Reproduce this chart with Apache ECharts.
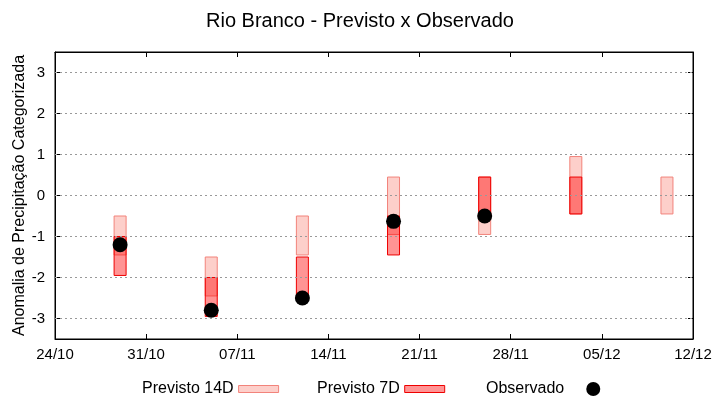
<!DOCTYPE html>
<html>
<head>
<meta charset="utf-8">
<script src="https://cdn.jsdelivr.net/npm/echarts@6/dist/echarts.min.js"></script>
<style>html,body{margin:0;padding:0;background:#fff;}#chart{width:720px;height:400px;}</style>
</head>
<body>
<div id="chart"></div>
<script>
// ---- data ----
var dates = ['2023-10-29','2023-11-05','2023-11-12','2023-11-19','2023-11-26','2023-12-03','2023-12-10'];
var p14Low  = [-1.45, -2.45, -1.45, -0.95, -0.95, -0.45, -0.45];
var p14High = [-0.5, -1.5, -0.5, 0.45, 0.45, 0.95, 0.45];
var p7Low   = [-1.95, -2.95, -2.45, -1.45, -0.5, -0.45, null];
var p7High  = [-1.0, -2.0, -1.5, -0.5, 0.45, 0.45, null];
var obs     = [-1.2, -2.8, -2.5, -0.63, -0.5, null, null];
var yTicks  = [-3, -2, -1, 0, 1, 2, 3];
var xStart = '2023-10-24', xEnd = '2023-12-12';

function ts(s){ var p=s.split('-'); return Date.UTC(+p[0], +p[1]-1, +p[2]); }
function pad(n){ return (n<10?'0':'')+n; }
function fmt(v){ var d=new Date(v); return pad(d.getUTCDate())+'/'+pad(d.getUTCMonth()+1); }
var DAY = 86400000;

var d14 = [], d7 = [], dObs = [];
for (var i=0;i<dates.length;i++){
  var t = ts(dates[i]);
  if (p14Low[i]!=null) d14.push([t, p14Low[i], p14High[i]]);
  if (p7Low[i]!=null) d7.push([t, p7Low[i], p7High[i]]);
  if (obs[i]!=null) dObs.push([t, obs[i]]);
}

var FONT = "'Liberation Sans', Arial, sans-serif";
var C14 = {fill:'#fdcfca', stroke:'#f2837b'};
var C7  = {fill:'rgba(255,0,0,0.42)', stroke:'#ee0000'};

function barRender(colors){
  return function(params, api){
    var x = api.value(0), lo = api.value(1), hi = api.value(2);
    var p1 = api.coord([x, hi]), p2 = api.coord([x, lo]);
    return {
      type:'rect',
      shape:{x:p1[0]-6, y:p1[1], width:12, height:p2[1]-p1[1]},
      style:{fill:colors.fill, stroke:colors.stroke, lineWidth:1}
    };
  };
}

var chart = echarts.init(document.getElementById('chart'), null, {renderer:'canvas'});
var xAxisBase = {
  type:'value', min: ts(xStart), max: ts(xEnd), interval: 7*DAY,
  splitLine:{show:false}
};
var yAxisBase = {
  type:'value', min:-3.5, max:3.5,
  splitLine:{show:false}
};
var legendText = {fontFamily:FONT, fontSize:16, color:'#000'};
chart.setOption({
  animation:false,
  backgroundColor:'#fff',
  title:{
    text:'Rio Branco - Previsto x Observado', left:'center', top:6,
    textStyle:{fontFamily:FONT, fontSize:20, fontWeight:'normal', color:'#000'}
  },
  grid:{left:55, right:27, top:52, bottom:61, show:true, borderColor:'#000', borderWidth:1,
        containLabel:false, outerBoundsMode:'none'},
  legend:[
    {data:[{name:'Previsto 14D', icon:'rect', itemStyle:{color:C14.fill, borderColor:C14.stroke, borderWidth:1}}],
     left:142, top:381, padding:0, align:'right', itemWidth:40, itemHeight:7, selectedMode:false,
     textStyle:legendText},
    {data:[{name:'Previsto 7D', icon:'rect', itemStyle:{color:C7.fill, borderColor:C7.stroke, borderWidth:1}}],
     left:317, top:381, padding:0, align:'right', itemWidth:40, itemHeight:7, selectedMode:false,
     textStyle:legendText},
    {data:[{name:'Observado', icon:'circle', itemStyle:{color:'#000', opacity:1}}],
     left:486, top:381, padding:0, align:'right', itemWidth:14, itemHeight:14, selectedMode:false,
     textStyle:{fontFamily:FONT, fontSize:16, color:'#000', padding:[0,17,0,0]}}
  ],
  xAxis:[
    Object.assign({}, xAxisBase, {
      position:'bottom',
      axisLine:{show:true, onZero:false, lineStyle:{color:'#000'}},
      axisTick:{show:true, inside:true, length:5, lineStyle:{color:'#000'}},
      axisLabel:{formatter:fmt, margin:8, fontFamily:FONT, fontSize:15, color:'#000'}
    }),
    Object.assign({}, xAxisBase, {
      position:'top',
      axisLine:{show:true, onZero:false, lineStyle:{color:'#000'}},
      axisTick:{show:true, inside:true, length:5, lineStyle:{color:'#000'}},
      axisLabel:{show:false}
    })
  ],
  yAxis:[
    Object.assign({}, yAxisBase, {
      position:'left',
      name:'Anomalia de Precipitação Categorizada', nameLocation:'middle', nameGap:27, nameRotate:90,
      nameMoveOverlap:false,
      nameTextStyle:{fontFamily:FONT, fontSize:16, color:'#000'},
      axisLine:{show:true, onZero:false, lineStyle:{color:'#000'}},
      axisTick:{show:true, inside:true, length:5, customValues:yTicks, lineStyle:{color:'#000'}},
      axisLabel:{customValues:yTicks, margin:10, fontFamily:FONT, fontSize:15, color:'#000'}
    }),
    Object.assign({}, yAxisBase, {
      position:'right',
      axisLine:{show:true, onZero:false, lineStyle:{color:'#000'}},
      axisTick:{show:true, inside:true, length:5, customValues:yTicks, lineStyle:{color:'#000'}},
      axisLabel:{show:false}
    })
  ],
  series:[
    {
      name:'grid', type:'line', data:[], z:1, silent:true,
      markLine:{
        silent:true, symbol:['none','none'], label:{show:false},
        lineStyle:{color:'#999', type:[2,3], width:1},
        data: yTicks.map(function(v){ return {yAxis:v}; })
      }
    },
    {name:'Previsto 14D', type:'custom', data:d14, z:2, renderItem:barRender(C14),
     encode:{x:0, y:[1,2]}, itemStyle:{color:C14.fill}},
    {name:'Previsto 7D', type:'custom', data:d7, z:3, renderItem:barRender(C7),
     encode:{x:0, y:[1,2]}, itemStyle:{color:C7.fill}},
    {name:'Observado', type:'scatter', data:dObs, z:4, symbol:'circle', symbolSize:15,
     itemStyle:{color:'#000', opacity:1}}
  ]
});
</script>
</body>
</html>
